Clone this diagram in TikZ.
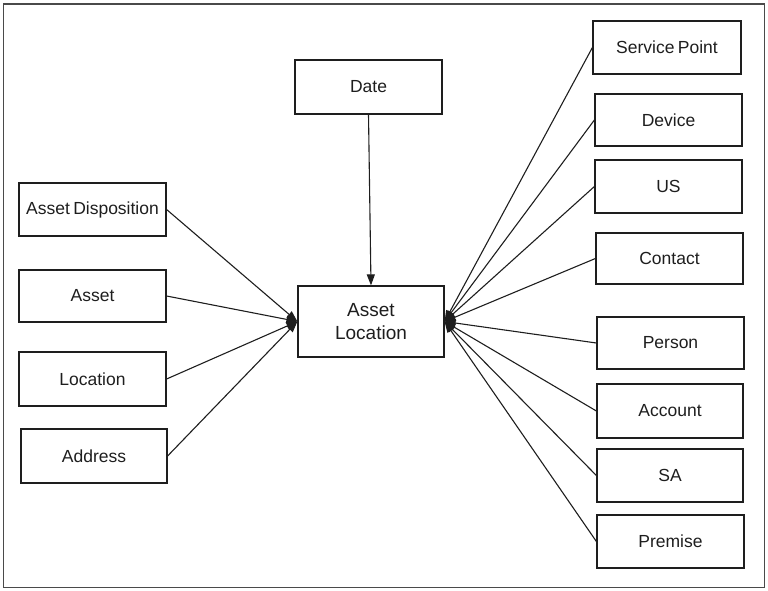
\documentclass[tikz,border=0pt]{standalone}
\usepackage{fontspec}
\setmainfont{Liberation Sans}
\usetikzlibrary{arrows.meta}
\definecolor{ink}{HTML}{1E1E1E}
\definecolor{frame}{HTML}{4A4A4A}
\begin{document}
\begin{tikzpicture}[x=1pt,y=-1pt,
  ent/.style={draw=ink, line width=1.2pt, rectangle, inner sep=0pt, text=ink,
     font=\fontsize{17.5}{20}\selectfont, minimum width=147pt, minimum height=53pt},
  link/.style={draw=ink, line width=1.1pt, -{Triangle[length=11pt,width=8pt]}}]
\useasboundingbox (0,0) rectangle (768,591);
\draw[frame, line width=1.5pt] (3.5,4) rectangle (764.5,587.5);
% centre
\node[ent, minimum width=146pt, minimum height=71pt, align=center,
      font=\fontsize{19}{23}\selectfont] (al) at (371,321.5) {Asset\\Location};
\node[ent, minimum width=147pt, minimum height=54pt] (date) at (368.5,87) {Date};
% left
\node[ent] (adisp) at (92.5,209.5) {Asset\hspace{-1.5pt} Disposition};
\node[ent, minimum height=52pt] (asset) at (92.5,296) {Asset};
\node[ent, minimum height=54pt] (loc) at (92.5,379) {Location};
\node[ent, minimum width=146pt, minimum height=54pt] (addr) at (94,456) {Address};
% right
\node[ent, minimum width=148pt] (sp) at (667,47.5) {Service\hspace{-1.5pt} Point};
\node[ent, minimum height=52pt] (dev) at (668.5,120) {Device};
\node[ent] (us) at (668.5,186.5) {US};
\node[ent, minimum height=51pt] (con) at (669.5,258.5) {Contact};
\node[ent, minimum height=52pt] (per) at (670.5,343) {Person};
\node[ent, minimum width=146pt, minimum height=54pt] (acc) at (670,411) {Account};
\node[ent, minimum width=146pt] (sa) at (670,475.5) {SA};
\node[ent] (prem) at (670.5,541.5) {Premise};
% connectors
\draw[link] (date.south) -- (al.north);
\foreach \n in {adisp,asset,loc,addr} \draw[link] (\n.east) -- (al.west);
\foreach \n in {sp,dev,us,con,per,acc,sa,prem} \draw[link] (\n.west) -- (al.east);
\end{tikzpicture}
\end{document}
